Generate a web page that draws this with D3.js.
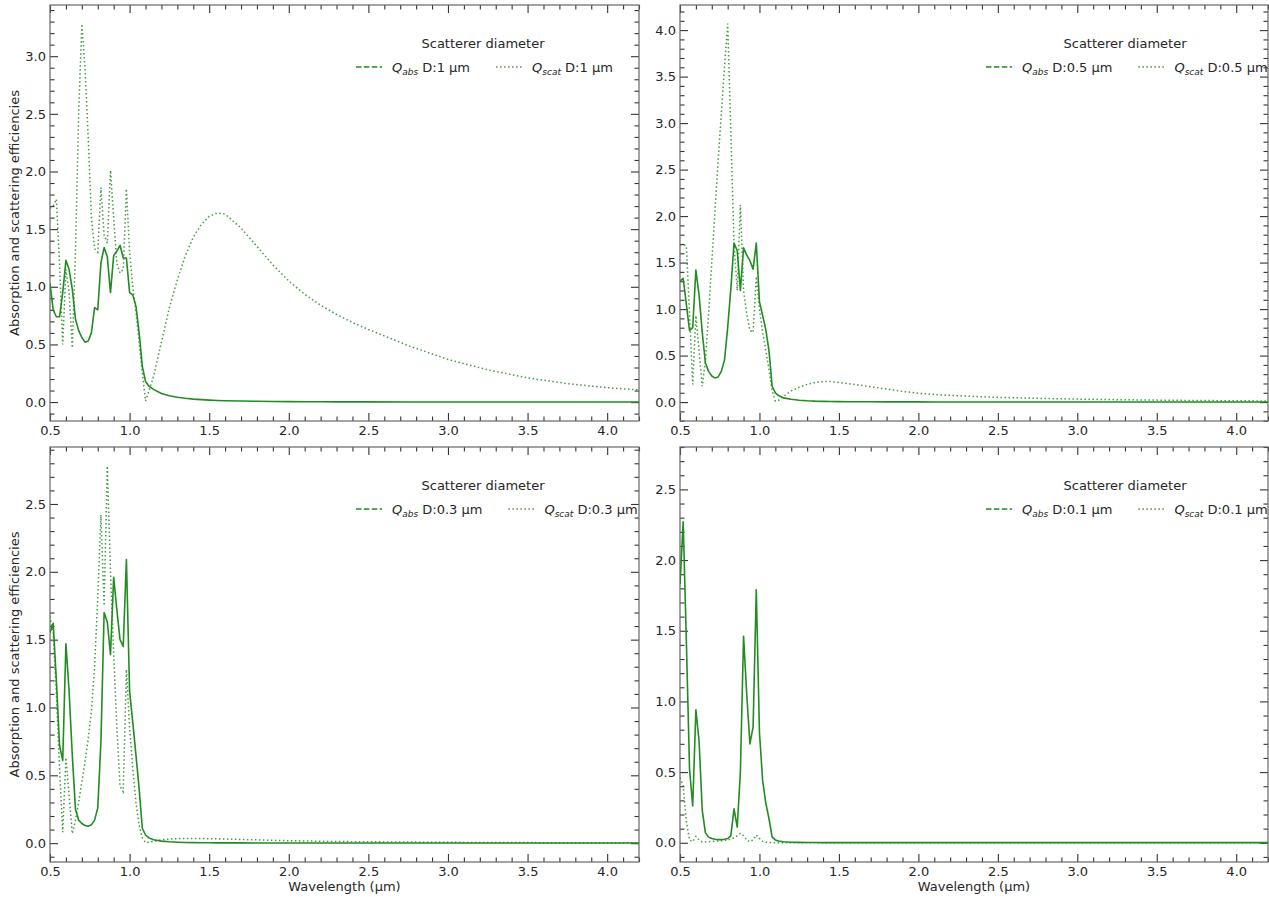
<!DOCTYPE html>
<html>
<head>
<meta charset="utf-8">
<script src="https://cdn.jsdelivr.net/npm/d3@7"></script>
<style>
  html, body { margin: 0; padding: 0; background: #fff; }
  svg { display: block; font-family: "DejaVu Sans", sans-serif; }
</style>
</head>
<body>
<svg id="chart" width="1269" height="897"></svg>
<script>
// ---- Data ----
const wavelengths = [0.50,0.52,0.54,0.56,0.58,0.60,0.62,0.64,0.66,0.68,0.70,0.72,0.74,0.76,0.78,0.80,
  0.82,0.84,0.86,0.88,0.90,0.92,0.94,0.96,0.98,1.00,1.02,1.04,1.06,1.08,1.10,
  1.12,1.15,1.20,1.25,1.30,1.35,1.40,1.45,1.50,1.55,1.60,1.70,1.80,1.90,2.00,2.10,2.20,2.30,2.40,2.50,
  2.75,3.00,3.25,3.50,3.75,4.00,4.20];

// D = 1 µm
const qAbsD1 = [1.03,0.80,0.74,0.74,0.95,1.23,1.15,0.98,0.72,0.62,0.56,0.52,0.53,0.60,0.82,0.80,
  1.21,1.34,1.26,0.95,1.27,1.31,1.36,1.25,1.25,0.95,0.93,0.83,0.60,0.31,0.18,
  0.14,0.11,0.075,0.055,0.042,0.033,0.026,0.021,0.017,0.014,0.012,0.009,0.007,0.005,0.004,0.003,0.003,0.002,0.002,0.002,
  0.001,0.001,0.001,0.001,0.001,0.001,0.001];
const qScatD1 = [1.68,1.70,1.76,1.20,0.50,1.15,0.95,0.47,1.30,2.50,3.28,2.90,2.30,1.60,1.33,1.30,
  1.86,1.45,1.38,2.01,1.60,1.20,1.12,1.15,1.85,1.30,1.00,0.78,0.52,0.25,0.01,
  0.09,0.22,0.52,0.82,1.06,1.27,1.43,1.54,1.61,1.64,1.63,1.51,1.35,1.19,1.05,0.935,0.84,0.76,0.69,0.63,
  0.49,0.37,0.28,0.21,0.16,0.125,0.105];

// D = 0.5 µm
const qAbsD05 = [1.30,1.33,1.05,0.77,0.80,1.42,1.15,0.75,0.42,0.33,0.28,0.26,0.27,0.33,0.45,0.80,
  1.22,1.71,1.63,1.20,1.66,1.58,1.52,1.43,1.71,1.08,0.93,0.78,0.55,0.17,0.10,
  0.07,0.045,0.03,0.02,0.014,0.010,0.008,0.006,0.005,0.004,0.004,0.003,0.002,0.002,0.002,0.001,0.001,0.001,0.001,0.001,
  0.001,0.001,0.001,0.001,0.001,0.001,0.001];
const qScatD05 = [1.69,1.69,1.68,0.95,0.19,0.93,0.55,0.17,0.45,0.95,1.50,2.05,2.60,3.10,3.60,4.07,
  2.90,1.70,1.20,2.12,1.20,0.95,0.77,0.75,1.35,1.00,0.75,0.55,0.35,0.12,0.01,
  0.02,0.06,0.12,0.16,0.19,0.21,0.22,0.22,0.21,0.20,0.19,0.165,0.14,0.115,0.095,0.082,0.072,0.064,0.057,0.051,
  0.040,0.032,0.026,0.021,0.017,0.014,0.012];

// D = 0.3 µm
const qAbsD03 = [1.55,1.62,1.20,0.72,0.61,1.47,1.12,0.65,0.25,0.17,0.145,0.13,0.125,0.135,0.17,0.26,
  0.75,1.70,1.63,1.39,1.96,1.72,1.50,1.45,2.09,1.12,0.89,0.65,0.40,0.11,0.06,
  0.04,0.025,0.015,0.010,0.007,0.005,0.004,0.003,0.003,0.002,0.002,0.002,0.001,0.001,0.001,0.001,0.001,0.001,0.001,0.001,
  0.001,0.001,0.001,0.001,0.001,0.001,0.001];
const qScatD03 = [1.67,1.55,1.10,0.55,0.08,0.63,0.35,0.07,0.17,0.30,0.45,0.60,0.77,0.97,1.30,1.80,
  2.42,1.75,2.78,2.00,1.40,0.85,0.42,0.38,1.28,0.85,0.55,0.30,0.13,0.04,0.005,
  0.006,0.014,0.024,0.030,0.033,0.035,0.035,0.034,0.033,0.032,0.030,0.027,0.024,0.021,0.018,0.016,0.014,0.012,0.011,0.010,
  0.008,0.006,0.005,0.004,0.003,0.003,0.002];

// D = 0.1 µm
const qAbsD01 = [1.83,2.27,1.43,0.52,0.26,0.94,0.72,0.23,0.07,0.04,0.03,0.025,0.022,0.022,0.025,0.03,
  0.05,0.24,0.11,0.50,1.46,1.05,0.70,0.82,1.79,0.78,0.44,0.28,0.17,0.04,0.02,
  0.012,0.007,0.004,0.003,0.002,0.002,0.001,0.001,0.001,0.001,0.001,0.001,0.001,0.001,0.001,0.001,0.001,0.001,0.001,0.001,
  0.001,0.001,0.001,0.001,0.001,0.001,0.001];
const qScatD01 = [0.46,0.40,0.15,0.02,0.008,0.045,0.02,0.006,0.006,0.008,0.010,0.012,0.013,0.015,0.017,0.020,
  0.025,0.035,0.05,0.066,0.05,0.02,0.007,0.02,0.055,0.03,0.01,0.004,0.002,0.001,0.001,
  0.001,0.001,0.001,0.001,0.001,0.001,0.001,0.001,0.001,0.001,0.001,0.001,0.001,0.001,0.001,0.001,0.001,0.001,0.001,0.001,
  0.001,0.001,0.001,0.001,0.001,0.001,0.001];

const diameters = ["1", "0.5", "0.3", "0.1"];
const xTicks = [0.5, 1.0, 1.5, 2.0, 2.5, 3.0, 3.5, 4.0];
const xLimits = [0.5, 4.2];
const yTicksD1 = [0.0, 0.5, 1.0, 1.5, 2.0, 2.5, 3.0];
const yTicksD05 = [0.0, 0.5, 1.0, 1.5, 2.0, 2.5, 3.0, 3.5, 4.0];
const yTicksD03 = [0.0, 0.5, 1.0, 1.5, 2.0, 2.5];
const yTicksD01 = [0.0, 0.5, 1.0, 1.5, 2.0, 2.5];
const yLimitsD1 = [-0.164, 3.444];
const yLimitsD05 = [-0.2035, 4.27];
const yLimitsD03 = [-0.139, 2.92];
const yLimitsD01 = [-0.136, 2.80];

const yLabel = "Absorption and scattering efficiencies";
const xLabel = "Wavelength (µm)";
const legendTitle = "Scatterer diameter";

// ---- Layout & style ----
const GREEN = "#228b22";
const TEXT = "#262626";
const svg = d3.select("#chart");

const panels = [
  {abs: qAbsD1, scat: qScatD1, d: diameters[0], yTicks: yTicksD1, yLim: yLimitsD1,
   box: {l: 50, r: 639, t: 5, b: 421}, showY: true, showX: false, titleX: 483},
  {abs: qAbsD05, scat: qScatD05, d: diameters[1], yTicks: yTicksD05, yLim: yLimitsD05,
   box: {l: 680, r: 1268, t: 5, b: 421}, showY: false, showX: false, titleX: 1125},
  {abs: qAbsD03, scat: qScatD03, d: diameters[2], yTicks: yTicksD03, yLim: yLimitsD03,
   box: {l: 50, r: 639, t: 447, b: 862}, showY: true, showX: true, titleX: 483},
  {abs: qAbsD01, scat: qScatD01, d: diameters[3], yTicks: yTicksD01, yLim: yLimitsD01,
   box: {l: 680, r: 1268, t: 447, b: 862}, showY: false, showX: true, titleX: 1125}
];

const fmt = d3.format(".1f");

panels.forEach((p, i) => {
  const {l, r, t, b} = p.box;
  const x = d3.scaleLinear().domain(xLimits).range([l, r]);
  const y = d3.scaleLinear().domain(p.yLim).range([b, t]);
  const g = svg.append("g");

  const clipId = "clip" + i;
  svg.append("clipPath").attr("id", clipId)
    .append("rect").attr("x", l).attr("y", t).attr("width", r - l).attr("height", b - t);

  const xMinor = d3.range(Math.ceil(xLimits[0] * 10), Math.floor(xLimits[1] * 10 + 1e-9) + 1)
    .map(v => v / 10).filter(v => Math.abs(v * 2 - Math.round(v * 2)) > 1e-6);
  const yMinor = d3.range(Math.ceil(p.yLim[0] * 10), Math.floor(p.yLim[1] * 10) + 1)
    .map(v => v / 10).filter(v => Math.abs(v * 2 - Math.round(v * 2)) > 1e-6);

  const MAJ = 8, MIN = 4.5;
  function styleAxis(sel) {
    sel.select(".domain").remove();
    sel.selectAll(".tick line").attr("stroke", "#333").attr("stroke-width", 1.1);
    sel.selectAll(".tick text").attr("fill", TEXT).style("font-size", "13px")
      .style("font-family", "DejaVu Sans, sans-serif");
  }

  // bottom
  g.append("g").attr("transform", `translate(0,${b})`)
    .call(d3.axisBottom(x).tickValues(xTicks).tickFormat(fmt).tickSize(-MAJ).tickPadding(5))
    .call(styleAxis);
  g.append("g").attr("transform", `translate(0,${b})`)
    .call(d3.axisBottom(x).tickValues(xMinor).tickFormat("").tickSize(-MIN))
    .call(styleAxis);
  // top
  g.append("g").attr("transform", `translate(0,${t})`)
    .call(d3.axisTop(x).tickValues(xTicks).tickFormat("").tickSize(-MAJ))
    .call(styleAxis);
  g.append("g").attr("transform", `translate(0,${t})`)
    .call(d3.axisTop(x).tickValues(xMinor).tickFormat("").tickSize(-MIN))
    .call(styleAxis);
  // left
  g.append("g").attr("transform", `translate(${l},0)`)
    .call(d3.axisLeft(y).tickValues(p.yTicks).tickFormat(fmt).tickSize(-MAJ).tickPadding(4))
    .call(styleAxis);
  g.append("g").attr("transform", `translate(${l},0)`)
    .call(d3.axisLeft(y).tickValues(yMinor).tickFormat("").tickSize(-MIN))
    .call(styleAxis);
  // right
  g.append("g").attr("transform", `translate(${r},0)`)
    .call(d3.axisRight(y).tickValues(p.yTicks).tickFormat("").tickSize(-MAJ))
    .call(styleAxis);
  g.append("g").attr("transform", `translate(${r},0)`)
    .call(d3.axisRight(y).tickValues(yMinor).tickFormat("").tickSize(-MIN))
    .call(styleAxis);

  // frame
  g.append("rect").attr("x", l).attr("y", t).attr("width", r - l).attr("height", b - t)
    .attr("fill", "none").attr("stroke", "#666").attr("stroke-width", 1.2);

  // lines
  const line = d3.line().x((d, k) => x(wavelengths[k])).y(d => y(d));
  g.append("path").datum(p.abs).attr("clip-path", `url(#${clipId})`)
    .attr("d", line).attr("fill", "none").attr("stroke", GREEN).attr("stroke-width", 1.6)
    .attr("stroke-linejoin", "round");
  g.append("path").datum(p.scat).attr("clip-path", `url(#${clipId})`)
    .attr("d", line).attr("fill", "none").attr("stroke", GREEN).attr("stroke-width", 1.5)
    .attr("stroke-dasharray", "1.5,2.5").attr("opacity", 0.85);

  // axis labels
  if (p.showY) {
    g.append("text").attr("transform", `translate(${l - 31},${(t + b) / 2}) rotate(-90)`)
      .attr("text-anchor", "middle").attr("fill", TEXT).style("font-size", "13px")
      .text(yLabel);
  }
  if (p.showX) {
    g.append("text").attr("x", (l + r) / 2).attr("y", b + 29)
      .attr("text-anchor", "middle").attr("fill", TEXT).style("font-size", "13px")
      .text(xLabel);
  }

  // legend
  const lg = g.append("g");
  const lx = l + 306;
  const rowY = t + 62;
  const items = [
    {sub: "abs", dash: "5.5,2.4", op: 1},
    {sub: "scat", dash: "1.5,2.5", op: 0.85}
  ];
  let cx = lx;
  items.forEach(it => {
    lg.append("line").attr("x1", cx).attr("x2", cx + 26).attr("y1", rowY).attr("y2", rowY)
      .attr("stroke", GREEN).attr("stroke-width", 1.5).attr("stroke-dasharray", it.dash)
      .attr("opacity", it.op);
    const tx = lg.append("text").attr("x", cx + 36).attr("y", rowY + 5)
      .attr("fill", TEXT).style("font-size", "13px");
    tx.append("tspan").style("font-style", "italic").text("Q");
    tx.append("tspan").style("font-style", "italic").style("font-size", "9px")
      .attr("dy", 3).text(it.sub);
    tx.append("tspan").attr("dy", -3).text(" D:" + p.d + " µm");
    const w = tx.node().getComputedTextLength();
    cx = cx + 36 + w + 26;
  });
  lg.append("text").attr("x", p.titleX).attr("y", t + 42.5)
    .attr("text-anchor", "middle").attr("fill", TEXT).style("font-size", "13px")
    .text(legendTitle);
});
</script>
</body>
</html>
